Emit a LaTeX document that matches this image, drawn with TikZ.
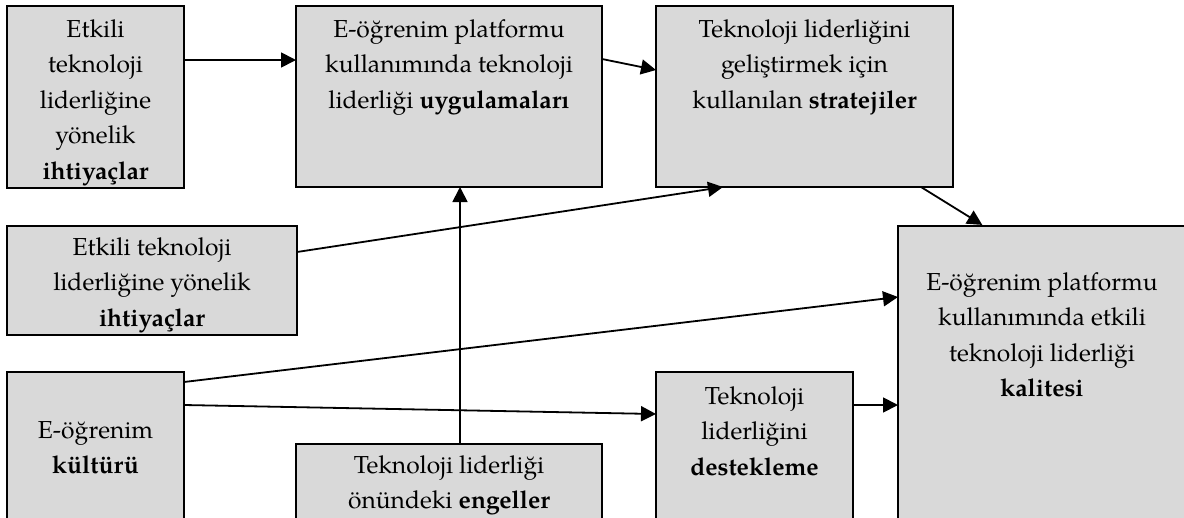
\documentclass[tikz,border=0pt]{standalone}
\usepackage{fontspec}
\setmainfont{TeX Gyre Pagella}
\usetikzlibrary{arrows.meta}
\definecolor{boxfill}{RGB}{217,217,217}
\begin{document}
\begin{tikzpicture}[x=1pt,y=-1pt,
  box/.style={draw=black, line width=2.6pt, fill=boxfill, rectangle, inner sep=0pt, outer sep=0pt, anchor=north west},
  txt/.style={font=\fontsize{24.6}{35.5}\selectfont, align=center, inner sep=0pt, anchor=north},
  arr/.style={line width=1.8pt, -{Triangle[length=15pt,width=15pt]}}]
\useasboundingbox (0,0) rectangle (1184,517);
\clip (0,0) rectangle (1184,517);
% boxes
\node[box, minimum width=177pt, minimum height=182pt] (b1) at (7,6) {};
\node[box, minimum width=306pt, minimum height=181pt] (b2) at (296,6) {};
\node[box, minimum width=297pt, minimum height=181pt] (b3) at (656,6) {};
\node[box, minimum width=290pt, minimum height=109pt] (b4) at (7,226) {};
\node[box, minimum width=300pt, minimum height=330pt] (b5) at (898,226) {};
\node[box, minimum width=177pt, minimum height=200pt] (b6) at (7,372) {};
\node[box, minimum width=197pt, minimum height=200pt] (b7) at (656,372) {};
\node[box, minimum width=306pt, minimum height=150pt] (b8) at (296,444) {};
% texts
\node[txt] (t1) at (95.5,12) {\strut Etkili\\teknoloji\\liderliğine\\yönelik\\\textbf{ihtiyaçlar}};
\node[txt] (t2) at (449,12) {\strut E-öğrenim platformu\\kullanımında teknoloji\\liderliği \textbf{uygulamaları}};
\node[txt] (t3) at (804.5,12) {\strut Teknoloji liderliğini\\geliştirmek için\\kullanılan \textbf{stratejiler}};
\node[txt] (t4) at (152,230) {\strut Etkili teknoloji\\liderliğine yönelik\\\textbf{ihtiyaçlar}};
\node[txt] (t5) at (1042,265) {\strut E-öğrenim platformu\\kullanımında etkili\\teknoloji liderliği\\\textbf{kalitesi}};
\node[txt] (t6) at (95.5,413) {\strut E-öğrenim\\\textbf{kültürü}};
\node[txt] (t7) at (754.5,379) {\strut Teknoloji\\liderliğini\\\textbf{destekleme}};
\node[txt] (t8) at (449,448) {\strut Teknoloji liderliği\\önündeki \textbf{engeller}};
% connectors
\draw[arr] (b1.east |- 0,60) -- (b2.west |- 0,60);
\draw[arr] (b2.east |- 0,59) -- (b3.west |- 0,70);
\draw[arr, shorten >=2pt] (b3.south -| 921,0) -- (b5.north -| 984,0);
\draw[arr] (b4.east |- 0,252) -- (b3.south -| 723,0);
\draw[arr] (b6.east |- 0,382) -- (b5.west |- 0,297);
\draw[arr] (b6.east |- 0,405) -- (b7.west |- 0,414);
\draw[arr] (b7.east |- 0,405) -- (b5.west |- 0,405);
\draw[arr] (b8.north -| 460,0) -- (b2.south -| 460,0);
\end{tikzpicture}
\end{document}
